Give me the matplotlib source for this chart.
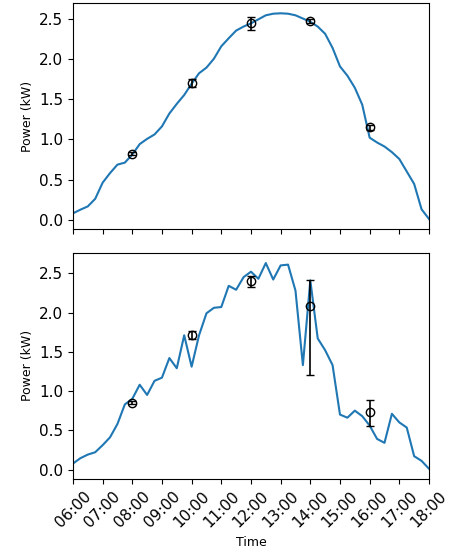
import numpy as np
import pandas as pd
import matplotlib
matplotlib.use("Agg")
from matplotlib import pyplot as plt
import matplotlib.dates as mdates

# 15-minute samples from 06:00 to 18:00
times = pd.date_range("2020-06-01 06:00", "2020-06-01 18:00", freq="15min")

power_clear = [0.08, 0.125, 0.166, 0.26, 0.46, 0.58, 0.685, 0.71, 0.81, 0.94, 1.005, 1.06,
               1.16, 1.32, 1.44, 1.55, 1.69, 1.82, 1.89, 2.00, 2.155, 2.255, 2.35, 2.40,
               2.44, 2.49, 2.54, 2.56, 2.565, 2.56, 2.54, 2.50, 2.46, 2.40, 2.31, 2.135,
               1.905, 1.79, 1.64, 1.43, 1.02, 0.96, 0.91, 0.84, 0.755, 0.60, 0.445, 0.13, 0.01]

power_cloudy = [0.076, 0.144, 0.19, 0.22, 0.31, 0.41, 0.58, 0.83, 0.90, 1.08, 0.95, 1.13,
                1.17, 1.42, 1.29, 1.71, 1.31, 1.71, 1.99, 2.06, 2.07, 2.34, 2.29, 2.45,
                2.52, 2.43, 2.63, 2.42, 2.60, 2.61, 2.28, 1.33, 2.41, 1.67, 1.52, 1.33,
                0.70, 0.66, 0.75, 0.68, 0.56, 0.39, 0.34, 0.71, 0.60, 0.535, 0.17, 0.11, 0.01]

# measured points with error bars
meas_times = pd.to_datetime(["2020-06-01 08:00", "2020-06-01 10:00", "2020-06-01 12:00",
                             "2020-06-01 14:00", "2020-06-01 16:00"])
meas_clear = [0.82, 1.70, 2.44, 2.47, 1.15]
err_clear_lo = [0.02, 0.05, 0.08, 0.03, 0.03]
err_clear_hi = [0.02, 0.05, 0.08, 0.03, 0.03]
meas_cloudy = [0.85, 1.71, 2.40, 2.08, 0.73]
err_cloudy_lo = [0.02, 0.05, 0.07, 0.88, 0.17]
err_cloudy_hi = [0.02, 0.05, 0.07, 0.33, 0.16]

fig, (ax1, ax2) = plt.subplots(2, 1, figsize=(4.53, 5.57), dpi=100, sharex=True)
fig.subplots_adjust(left=0.161, right=0.947, top=0.9946, bottom=0.14, hspace=0.104)

panels = [(ax1, power_clear, meas_clear, err_clear_lo, err_clear_hi),
          (ax2, power_cloudy, meas_cloudy, err_cloudy_lo, err_cloudy_hi)]
for ax, pw, meas, elo, ehi in panels:
    ax.plot(times, pw, color="tab:blue", lw=1.5)
    ax.errorbar(meas_times, meas, yerr=[elo, ehi], fmt="o", color="k",
                mfc="none", capsize=3, ms=6, elinewidth=1.2)
    ax.set_ylabel("Power (kW)", fontsize=9)
    ax.set_yticks([0.0, 0.5, 1.0, 1.5, 2.0, 2.5])
    ax.tick_params(labelsize=11)

ax2.set_xlim(times[0], times[-1])
ax2.xaxis.set_major_locator(mdates.HourLocator())
ax2.xaxis.set_major_formatter(mdates.DateFormatter("%H:%M"))
plt.setp(ax2.get_xticklabels(), rotation=45)
ax2.set_xlabel("Time", fontsize=9)

plt.savefig("out.png", dpi=100)
plt.close()
